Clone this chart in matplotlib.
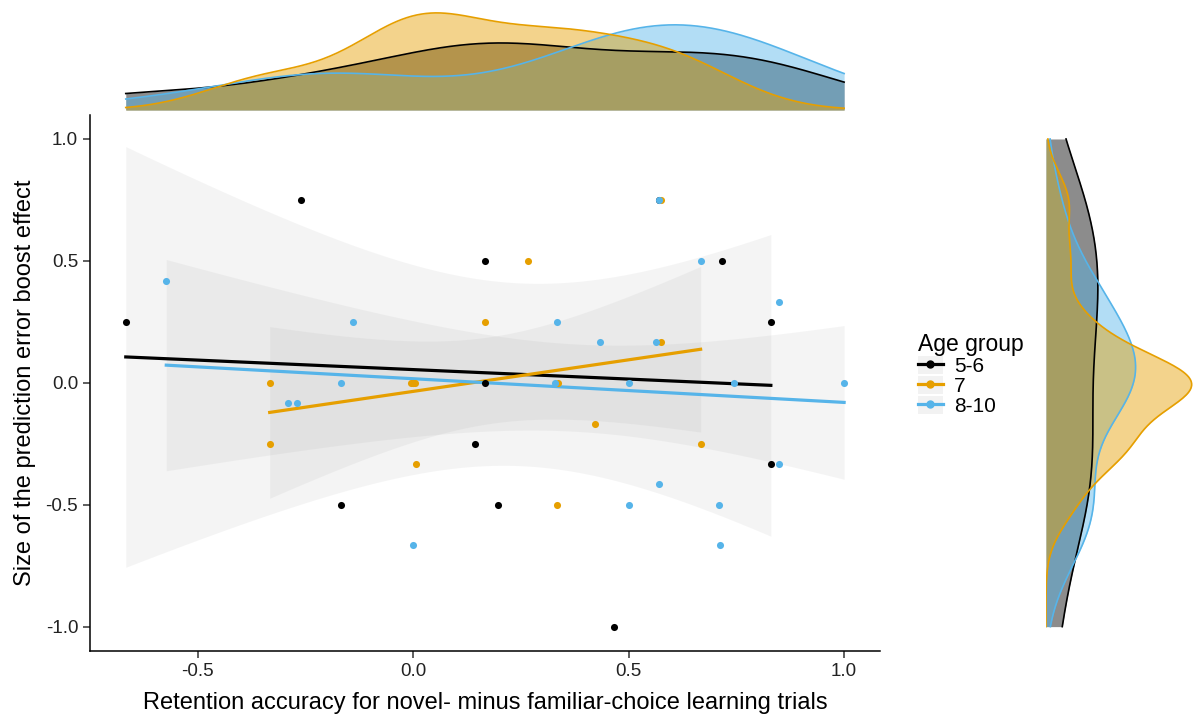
import numpy as np
import matplotlib.pyplot as plt
from matplotlib.lines import Line2D
from matplotlib.patches import Patch

plt.rcParams['font.family'] = ['Liberation Sans', 'DejaVu Sans']

groups = ['5-6', '7', '8-10']
colors = ['#000000', '#E69F00', '#56B4E9']

# retention accuracy difference (x) and prediction error boost (y) per age group
x_56 = [-0.667, -0.26, 0.167, -0.167, 0.143, 0.196, 0.167, 0.717, 0.83, 0.83, 0.467, 0.57]
y_56 = [0.25, 0.75, 0.5, -0.5, -0.25, -0.5, 0.0, 0.5, 0.25, -0.333, -1.0, 0.75]

x_7 = [-0.333, -0.333, -0.005, 0.005, 0.0, 0.0, 0.007, 0.167, 0.267, 0.337, 0.333, 0.423,
       0.575, 0.575, 0.667]
y_7 = [0.0, -0.25, 0.0, 0.0, 0.0, 0.0, -0.333, 0.25, 0.5, 0.0, -0.5, -0.167,
       0.75, 0.167, -0.25]

x_810 = [-0.573, -0.14, -0.167, -0.29, -0.27, 0.0, 0.333, 0.433, 0.564, 0.57, 0.667,
         0.85, 0.33, 0.5, 0.744, 1.0, 0.57, 0.5, 0.71, 0.713, 0.85]
y_810 = [0.417, 0.25, 0.0, -0.083, -0.083, -0.667, 0.25, 0.167, 0.167, 0.75, 0.5,
         0.333, 0.0, 0.0, 0.0, 0.0, -0.417, -0.5, -0.5, -0.667, -0.333]

xs = [np.array(x_56), np.array(x_7), np.array(x_810)]
ys = [np.array(y_56), np.array(y_7), np.array(y_810)]

# t quantiles (0.975) for df = n - 2
t_crit = {9: 2.262, 10: 2.228, 11: 2.201, 12: 2.179, 13: 2.160, 14: 2.145, 19: 2.093}

W, H = 1196, 715
fig = plt.figure(figsize=(W / 100, H / 100), dpi=100)

ax = fig.add_axes([90 / W, (H - 651) / H, 790 / W, (651 - 114.6) / H])
ax_top = fig.add_axes([90 / W, (H - 110) / H, 790 / W, 100 / H], sharex=ax)
ax_right = fig.add_axes([1046 / W, (H - 651) / H, 150 / W, (651 - 114.6) / H], sharey=ax)

# regression lines with 95% confidence bands
for x, y, c in zip(xs, ys, colors):
    n = len(x)
    b, a = np.polyfit(x, y, 1)
    grid = np.linspace(x.min(), x.max(), 80)
    fit = a + b * grid
    resid = y - (a + b * x)
    s = np.sqrt(np.sum(resid ** 2) / (n - 2))
    se = s * np.sqrt(1 / n + (grid - x.mean()) ** 2 / np.sum((x - x.mean()) ** 2))
    t = t_crit[n - 2]
    ax.fill_between(grid, fit - t * se, fit + t * se, color='#999999', alpha=0.1, lw=0)
    ax.plot(grid, fit, color=c, lw=2.3, zorder=3)

for x, y, c in zip(xs, ys, colors):
    ax.scatter(x, y, s=26, color=c, lw=0, zorder=4)

ax.set_xlim(-0.75, 1.0833)
ax.set_ylim(-1.1, 1.1)
ax.set_xticks([-0.5, 0.0, 0.5, 1.0])
ax.set_yticks([-1.0, -0.5, 0.0, 0.5, 1.0])
ax.set_xticklabels(['-0.5', '0.0', '0.5', '1.0'])
ax.set_yticklabels(['-1.0', '-0.5', '0.0', '0.5', '1.0'])
for sp in ['top', 'right']:
    ax.spines[sp].set_visible(False)
for sp in ['left', 'bottom']:
    ax.spines[sp].set_linewidth(1.1)
ax.tick_params(labelsize=13.5, length=5, width=1.1, colors='#333333', labelcolor='#222222')
ax.set_xlabel('Retention accuracy for novel- minus familiar-choice learning trials',
              fontsize=17, labelpad=9)
ax.set_ylabel('Size of the prediction error boost effect', fontsize=17, labelpad=7)


def kde(data, grid):
    n = len(data)
    q75, q25 = np.percentile(data, [75, 25])
    bw = 0.9 * min(data.std(ddof=1), (q75 - q25) / 1.34) * n ** -0.2
    z = (grid[:, None] - data[None, :]) / bw
    return np.exp(-0.5 * z ** 2).sum(axis=1) / (n * bw * np.sqrt(2 * np.pi))


all_x = np.concatenate(xs)
gx = np.linspace(all_x.min(), all_x.max(), 300)
gy = np.linspace(-1.0, 1.0, 300)
top_max = 0
right_max = 0
# fill order: black, blue, orange on top
for i in [0, 2, 1]:
    x, y, c = xs[i], ys[i], colors[i]
    dx = kde(x, gx)
    dy = kde(y, gy)
    top_max = max(top_max, dx.max())
    right_max = max(right_max, dy.max())
    ax_top.fill_between(gx, 0, dx, color=c, alpha=0.45, lw=0)
    ax_right.fill_betweenx(gy, 0, dy, color=c, alpha=0.45, lw=0)
for i in [0, 2, 1]:
    x, y, c = xs[i], ys[i], colors[i]
    ax_top.plot(gx, kde(x, gx), color=c, lw=1.2)
    ax_right.plot(kde(y, gy), gy, color=c, lw=1.2)

ax_top.set_ylim(0, top_max * 1.03)
ax_right.set_xlim(0, right_max * 1.03)
for a in (ax_top, ax_right):
    a.axis('off')

handles = [(Patch(facecolor='#f2f2f2', edgecolor='none'),
            Line2D([0], [0], color=c, lw=2.3, marker='o', markersize=5)) for c in colors]
leg = fig.legend(handles, groups, title='Age group', loc='upper left',
                 bbox_to_anchor=(899 / W, (H - 314) / H), frameon=False,
                 fontsize=15, title_fontsize=16.5, handlelength=1.2, handleheight=0.95,
                 handletextpad=0.55, labelspacing=0.0, alignment='left')

fig.savefig('out.png', dpi=100)
